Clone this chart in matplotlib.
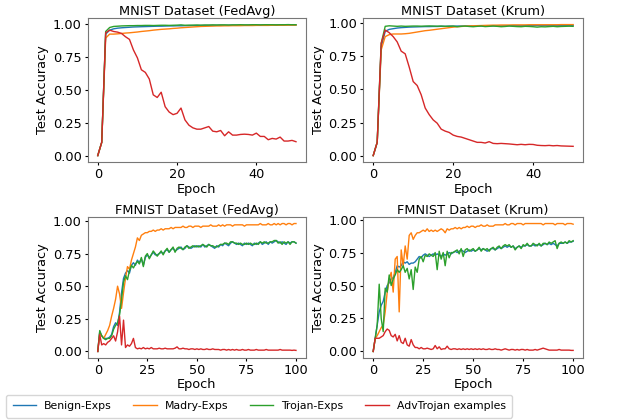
import numpy as np
import matplotlib.pyplot as plt

# MNIST, FedAvg (epochs 0..50)
mnist_fedavg_benign = [0.00, 0.10, 0.92, 0.95, 0.96, 0.965, 0.968, 0.970, 0.972, 0.974,
                       0.975, 0.976, 0.977, 0.978, 0.979, 0.980, 0.980, 0.981, 0.982, 0.982,
                       0.983, 0.983, 0.984, 0.984, 0.985, 0.985, 0.985, 0.986, 0.986, 0.986,
                       0.987, 0.987, 0.987, 0.987, 0.988, 0.988, 0.988, 0.988, 0.988, 0.989,
                       0.989, 0.989, 0.989, 0.989, 0.989, 0.990, 0.990, 0.990, 0.990, 0.990, 0.990]
mnist_fedavg_madry = [0.00, 0.10, 0.89, 0.92, 0.92, 0.922, 0.925, 0.928, 0.93, 0.933,
                      0.936, 0.94, 0.943, 0.946, 0.95, 0.953, 0.956, 0.958, 0.96, 0.963,
                      0.965, 0.968, 0.97, 0.972, 0.974, 0.976, 0.978, 0.979, 0.98, 0.981,
                      0.982, 0.982, 0.983, 0.983, 0.984, 0.984, 0.984, 0.985, 0.985, 0.985,
                      0.986, 0.986, 0.986, 0.986, 0.987, 0.987, 0.987, 0.987, 0.988, 0.988, 0.988]
mnist_fedavg_trojan = [0.00, 0.10, 0.94, 0.97, 0.978, 0.98, 0.982, 0.983, 0.984, 0.984,
                       0.985, 0.985, 0.986, 0.986, 0.985, 0.986, 0.987, 0.987, 0.986, 0.987,
                       0.988, 0.99, 0.987, 0.988, 0.988, 0.989, 0.988, 0.989, 0.989, 0.99,
                       0.989, 0.99, 0.99, 0.989, 0.99, 0.99, 0.991, 0.99, 0.99, 0.991,
                       0.991, 0.99, 0.991, 0.991, 0.991, 0.99, 0.991, 0.991, 0.992, 0.991, 0.991]
mnist_fedavg_adv = [0.00, 0.10, 0.93, 0.95, 0.94, 0.935, 0.925, 0.90, 0.88, 0.80,
                    0.74, 0.65, 0.63, 0.58, 0.46, 0.44, 0.48, 0.37, 0.33, 0.31,
                    0.32, 0.36, 0.27, 0.23, 0.21, 0.20, 0.20, 0.21, 0.22, 0.185,
                    0.18, 0.19, 0.15, 0.18, 0.155, 0.155, 0.16, 0.162, 0.16, 0.155,
                    0.17, 0.145, 0.145, 0.12, 0.13, 0.125, 0.14, 0.11, 0.11, 0.115, 0.105]

# MNIST, Krum (epochs 0..50)
mnist_krum_benign = [0.00, 0.10, 0.82, 0.94, 0.955, 0.96, 0.965, 0.968, 0.97, 0.972,
                     0.973, 0.974, 0.975, 0.976, 0.976, 0.977, 0.977, 0.978, 0.978, 0.979,
                     0.979, 0.98, 0.98, 0.98, 0.98, 0.981, 0.981, 0.981, 0.981, 0.982,
                     0.982, 0.982, 0.982, 0.982, 0.983, 0.983, 0.983, 0.983, 0.983, 0.983,
                     0.984, 0.984, 0.984, 0.984, 0.984, 0.984, 0.985, 0.985, 0.985, 0.985, 0.985]
mnist_krum_madry = [0.00, 0.10, 0.80, 0.90, 0.915, 0.92, 0.92, 0.92, 0.922, 0.925,
                    0.93, 0.935, 0.94, 0.945, 0.948, 0.952, 0.956, 0.96, 0.964, 0.968,
                    0.972, 0.975, 0.977, 0.979, 0.981, 0.982, 0.983, 0.984, 0.985, 0.986,
                    0.987, 0.987, 0.988, 0.988, 0.988, 0.989, 0.989, 0.989, 0.989, 0.99,
                    0.99, 0.99, 0.99, 0.99, 0.99, 0.99, 0.99, 0.991, 0.991, 0.991, 0.991]
mnist_krum_trojan = [0.00, 0.10, 0.85, 0.978, 0.982, 0.98, 0.978, 0.98, 0.978, 0.979,
                     0.98, 0.98, 0.979, 0.98, 0.981, 0.98, 0.979, 0.98, 0.978, 0.979,
                     0.98, 0.975, 0.978, 0.98, 0.977, 0.975, 0.978, 0.98, 0.976, 0.978,
                     0.98, 0.978, 0.975, 0.977, 0.98, 0.978, 0.976, 0.975, 0.978, 0.977,
                     0.975, 0.972, 0.975, 0.974, 0.976, 0.978, 0.975, 0.977, 0.978, 0.979, 0.978]
mnist_krum_adv = [0.00, 0.10, 0.85, 0.95, 0.93, 0.90, 0.86, 0.79, 0.77, 0.67,
                  0.56, 0.53, 0.46, 0.36, 0.31, 0.27, 0.245, 0.20, 0.185, 0.175,
                  0.155, 0.145, 0.14, 0.13, 0.12, 0.11, 0.10, 0.10, 0.095, 0.105,
                  0.092, 0.09, 0.092, 0.09, 0.088, 0.085, 0.082, 0.085, 0.082, 0.085,
                  0.084, 0.078, 0.076, 0.075, 0.077, 0.074, 0.076, 0.073, 0.072, 0.071, 0.07]

# FMNIST, FedAvg (epochs 0..100)
fmnist_fedavg_benign = [0.00, 0.15, 0.12, 0.10, 0.10, 0.10, 0.11, 0.13, 0.19, 0.22,
                        0.20, 0.30, 0.45, 0.56, 0.60, 0.62, 0.60, 0.66, 0.68, 0.66,
                        0.70, 0.68, 0.71, 0.66, 0.72, 0.74, 0.72, 0.74, 0.76, 0.74,
                        0.74, 0.75, 0.76, 0.75, 0.77, 0.78, 0.76, 0.78, 0.79, 0.77,
                        0.78, 0.79, 0.80, 0.78, 0.79, 0.81, 0.80, 0.79, 0.80, 0.81,
                        0.80, 0.81, 0.80, 0.82, 0.80, 0.81, 0.82, 0.81, 0.80, 0.79,
                        0.81, 0.80, 0.82, 0.81, 0.83, 0.82, 0.81, 0.83, 0.84, 0.83,
                        0.82, 0.83, 0.82, 0.81, 0.83, 0.82, 0.83, 0.82, 0.81, 0.83,
                        0.82, 0.83, 0.84, 0.82, 0.83, 0.84, 0.82, 0.84, 0.83, 0.84,
                        0.85, 0.84, 0.83, 0.84, 0.83, 0.82, 0.84, 0.83, 0.84, 0.84, 0.83]
fmnist_fedavg_madry = [0.00, 0.14, 0.12, 0.10, 0.13, 0.16, 0.20, 0.27, 0.33, 0.40,
                       0.50, 0.44, 0.33, 0.45, 0.56, 0.65, 0.63, 0.70, 0.75, 0.80,
                       0.87, 0.85, 0.89, 0.90, 0.91, 0.91, 0.92, 0.92, 0.93, 0.92,
                       0.93, 0.93, 0.94, 0.93, 0.94, 0.94, 0.94, 0.95, 0.94, 0.95,
                       0.95, 0.95, 0.95, 0.96, 0.95, 0.95, 0.96, 0.96, 0.95, 0.96,
                       0.96, 0.96, 0.95, 0.96, 0.96, 0.96, 0.96, 0.97, 0.96, 0.96,
                       0.96, 0.97, 0.96, 0.97, 0.96, 0.97, 0.97, 0.97, 0.96, 0.97,
                       0.97, 0.97, 0.97, 0.97, 0.96, 0.97, 0.97, 0.97, 0.97, 0.97,
                       0.97, 0.97, 0.98, 0.97, 0.97, 0.97, 0.98, 0.97, 0.97, 0.98,
                       0.97, 0.98, 0.97, 0.98, 0.98, 0.97, 0.98, 0.98, 0.97, 0.98, 0.98]
fmnist_fedavg_trojan = [0.00, 0.16, 0.12, 0.10, 0.09, 0.10, 0.10, 0.12, 0.17, 0.20,
                        0.22, 0.28, 0.40, 0.53, 0.58, 0.55, 0.62, 0.66, 0.64, 0.67,
                        0.69, 0.67, 0.72, 0.65, 0.73, 0.75, 0.71, 0.74, 0.77, 0.75,
                        0.73, 0.75, 0.77, 0.74, 0.77, 0.79, 0.76, 0.78, 0.80, 0.76,
                        0.79, 0.80, 0.79, 0.78, 0.80, 0.81, 0.79, 0.80, 0.81, 0.80,
                        0.81, 0.80, 0.81, 0.82, 0.81, 0.80, 0.82, 0.81, 0.81, 0.80,
                        0.80, 0.81, 0.82, 0.82, 0.83, 0.83, 0.82, 0.84, 0.84, 0.83,
                        0.83, 0.82, 0.83, 0.82, 0.82, 0.83, 0.82, 0.83, 0.82, 0.82,
                        0.83, 0.82, 0.84, 0.83, 0.84, 0.83, 0.83, 0.84, 0.84, 0.85,
                        0.85, 0.83, 0.84, 0.82, 0.84, 0.83, 0.84, 0.82, 0.84, 0.84, 0.83]
fmnist_fedavg_adv = [0.00, 0.13, 0.05, 0.06, 0.05, 0.07, 0.08, 0.10, 0.12, 0.08,
                     0.15, 0.27, 0.05, 0.24, 0.03, 0.05, 0.04, 0.06, 0.10, 0.03,
                     0.02, 0.025, 0.02, 0.03, 0.02, 0.025, 0.02, 0.03, 0.02, 0.02,
                     0.02, 0.025, 0.02, 0.02, 0.025, 0.02, 0.02, 0.02, 0.02, 0.025,
                     0.035, 0.02, 0.02, 0.025, 0.02, 0.02, 0.015, 0.02, 0.02, 0.015,
                     0.02, 0.015, 0.02, 0.015, 0.015, 0.02, 0.015, 0.015, 0.02, 0.015,
                     0.015, 0.015, 0.01, 0.015, 0.015, 0.01, 0.015, 0.01, 0.015, 0.01,
                     0.015, 0.01, 0.01, 0.015, 0.01, 0.01, 0.015, 0.01, 0.01, 0.01,
                     0.015, 0.01, 0.01, 0.01, 0.01, 0.015, 0.01, 0.01, 0.01, 0.01,
                     0.01, 0.01, 0.015, 0.01, 0.01, 0.01, 0.01, 0.01, 0.008, 0.01, 0.008]

# FMNIST, Krum (epochs 0..100)
fmnist_krum_benign = [0.00, 0.10, 0.20, 0.30, 0.35, 0.38, 0.45, 0.50, 0.52, 0.55,
                      0.56, 0.60, 0.65, 0.64, 0.65, 0.68, 0.67, 0.68, 0.66, 0.67,
                      0.67, 0.68, 0.70, 0.72, 0.71, 0.73, 0.74, 0.73, 0.72, 0.73,
                      0.74, 0.73, 0.74, 0.73, 0.72, 0.74, 0.73, 0.74, 0.75, 0.74,
                      0.75, 0.76, 0.75, 0.76, 0.77, 0.76, 0.75, 0.76, 0.77, 0.76,
                      0.77, 0.76, 0.77, 0.78, 0.77, 0.78, 0.77, 0.76, 0.77, 0.78,
                      0.78, 0.77, 0.78, 0.79, 0.78, 0.79, 0.80, 0.79, 0.80, 0.79,
                      0.80, 0.78, 0.79, 0.80, 0.79, 0.80, 0.80, 0.81, 0.80, 0.80,
                      0.81, 0.80, 0.81, 0.81, 0.80, 0.81, 0.82, 0.81, 0.82, 0.81,
                      0.82, 0.81, 0.80, 0.82, 0.82, 0.82, 0.83, 0.82, 0.83, 0.83, 0.835]
fmnist_krum_madry = [0.00, 0.10, 0.12, 0.15, 0.18, 0.20, 0.30, 0.45, 0.55, 0.60,
                     0.45, 0.70, 0.72, 0.30, 0.77, 0.65, 0.80, 0.70, 0.88, 0.90,
                     0.85, 0.88, 0.90, 0.90, 0.91, 0.92, 0.91, 0.93, 0.91, 0.92,
                     0.91, 0.92, 0.91, 0.92, 0.93, 0.92, 0.90, 0.93, 0.92, 0.93,
                     0.93, 0.94, 0.93, 0.94, 0.93, 0.94, 0.94, 0.95, 0.94, 0.95,
                     0.95, 0.94, 0.95, 0.95, 0.96, 0.95, 0.95, 0.96, 0.95, 0.95,
                     0.95, 0.96, 0.96, 0.96, 0.96, 0.96, 0.97, 0.96, 0.96, 0.97,
                     0.97, 0.96, 0.97, 0.97, 0.97, 0.96, 0.97, 0.97, 0.97, 0.97,
                     0.97, 0.97, 0.97, 0.97, 0.97, 0.96, 0.97, 0.97, 0.97, 0.97,
                     0.97, 0.96, 0.97, 0.97, 0.97, 0.97, 0.96, 0.97, 0.97, 0.97, 0.965]
fmnist_krum_trojan = [0.00, 0.10, 0.20, 0.51, 0.25, 0.15, 0.48, 0.45, 0.58, 0.50,
                      0.55, 0.58, 0.62, 0.60, 0.62, 0.65, 0.60, 0.63, 0.55, 0.62,
                      0.47, 0.64, 0.60, 0.70, 0.72, 0.68, 0.73, 0.72, 0.74, 0.73,
                      0.72, 0.75, 0.62, 0.76, 0.70, 0.75, 0.65, 0.76, 0.71, 0.75,
                      0.75, 0.76, 0.77, 0.74, 0.78, 0.72, 0.77, 0.78, 0.76, 0.77,
                      0.78, 0.76, 0.77, 0.79, 0.76, 0.78, 0.77, 0.78, 0.76, 0.78,
                      0.79, 0.77, 0.79, 0.80, 0.78, 0.80, 0.81, 0.80, 0.81, 0.79,
                      0.80, 0.77, 0.79, 0.80, 0.78, 0.81, 0.80, 0.82, 0.80, 0.80,
                      0.82, 0.81, 0.80, 0.82, 0.80, 0.82, 0.82, 0.81, 0.83, 0.82,
                      0.83, 0.84, 0.78, 0.82, 0.83, 0.82, 0.83, 0.82, 0.84, 0.83, 0.84]
fmnist_krum_adv = [0.00, 0.10, 0.10, 0.10, 0.11, 0.12, 0.15, 0.17, 0.16, 0.12,
                   0.11, 0.13, 0.08, 0.12, 0.07, 0.06, 0.10, 0.05, 0.04, 0.09,
                   0.05, 0.03, 0.03, 0.02, 0.03, 0.02, 0.02, 0.025, 0.02, 0.015,
                   0.02, 0.045, 0.02, 0.035, 0.015, 0.02, 0.02, 0.04, 0.02, 0.015,
                   0.02, 0.02, 0.015, 0.02, 0.015, 0.02, 0.015, 0.02, 0.015, 0.02,
                   0.015, 0.02, 0.015, 0.02, 0.015, 0.02, 0.015, 0.015, 0.02, 0.015,
                   0.015, 0.02, 0.015, 0.015, 0.01, 0.015, 0.02, 0.015, 0.01, 0.015,
                   0.015, 0.01, 0.015, 0.01, 0.015, 0.015, 0.01, 0.015, 0.01, 0.01,
                   0.01, 0.015, 0.01, 0.015, 0.02, 0.025, 0.02, 0.015, 0.01, 0.01,
                   0.01, 0.01, 0.01, 0.015, 0.01, 0.01, 0.01, 0.01, 0.01, 0.008, 0.008]

titles = ['MNIST Dataset (FedAvg)', 'MNIST Dataset (Krum)',
          'FMNIST Dataset (FedAvg)', 'FMNIST Dataset (Krum)']
labels = ['Benign-Exps', 'Madry-Exps', 'Trojan-Exps', 'AdvTrojan examples']
panels = [
    [mnist_fedavg_benign, mnist_fedavg_madry, mnist_fedavg_trojan, mnist_fedavg_adv],
    [mnist_krum_benign, mnist_krum_madry, mnist_krum_trojan, mnist_krum_adv],
    [fmnist_fedavg_benign, fmnist_fedavg_madry, fmnist_fedavg_trojan, fmnist_fedavg_adv],
    [fmnist_krum_benign, fmnist_krum_madry, fmnist_krum_trojan, fmnist_krum_adv],
]
colors = ['#1f77b4', '#ff7f0e', '#2ca02c', '#d62728']

fig = plt.figure(figsize=(6.23, 4.2), dpi=100)
boxes = [[0.141, 0.614, 0.350, 0.343],
         [0.583, 0.614, 0.353, 0.343],
         [0.141, 0.148, 0.350, 0.335],
         [0.583, 0.148, 0.353, 0.335]]

fs = 9.3
for k in range(4):
    ax = fig.add_axes(boxes[k])
    for s in range(4):
        y = panels[k][s]
        ax.plot(np.arange(len(y)), y, color=colors[s], lw=1.0, label=labels[s])
    ax.set_title(titles[k], fontsize=fs, pad=2)
    ax.set_xlabel('Epoch', fontsize=fs, labelpad=1)
    ax.set_ylabel('Test Accuracy', fontsize=fs, labelpad=2.5)
    ax.set_yticks([0.0, 0.25, 0.5, 0.75, 1.0])
    ax.tick_params(labelsize=fs, length=2.5, pad=2)
    for sp in ax.spines.values():
        sp.set_color('#777777')

handles, labs = ax.get_legend_handles_labels()
fig.legend(handles, labs, loc='center', bbox_to_anchor=(0.416, 0.033), ncol=4,
           fontsize=7.8, frameon=True, columnspacing=2.0, handlelength=2.15,
           handletextpad=0.75, borderpad=0.6)

fig.savefig('out.png', dpi=100)
